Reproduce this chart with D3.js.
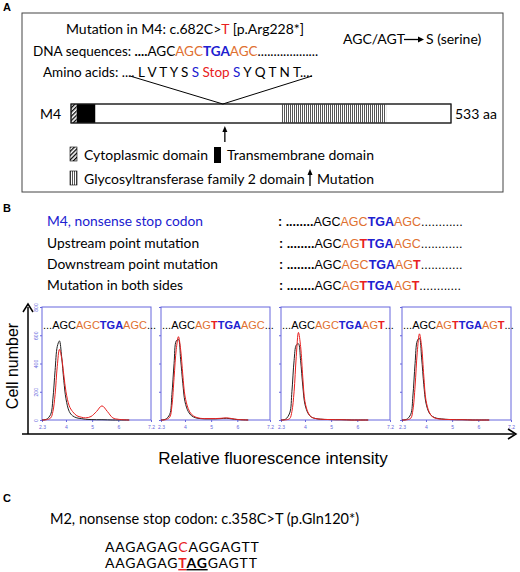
<!DOCTYPE html>
<html><head><meta charset="utf-8">
<script src="https://cdn.jsdelivr.net/npm/d3@7"></script>
<style>body{margin:0;background:#fff}</style>
</head><body>
<script>
const W = 520, H = 572
const OR = '#e07030', BL = '#2020d0', RD = '#e82020'

// panel A protein domains (amino acid positions)
const proteinLength = 533
const domains = [
  {name: 'Cytoplasmic domain', start: 0, end: 8, fill: 'url(#hatch)'},
  {name: 'Transmembrane domain', start: 8, end: 34, fill: '#000'},
  {name: 'Glycosyltransferase family 2 domain', start: 295, end: 442, fill: 'url(#vstripe)'}
]
const mutationPos = 213

// panel B sequences: [text, colour, bold]
const seqLabels = ['M4, nonsense stop codon', 'Upstream point mutation', 'Downstream point mutation', 'Mutation in both sides']
const seqs = [
  [['AGC', '#000'], ['AGC', OR], ['TGA', BL, 1], ['AGC', OR]],
  [['AGC', '#000'], ['AG', OR], ['T', RD, 1], ['TGA', BL, 1], ['AGC', OR]],
  [['AGC', '#000'], ['AGC', OR], ['TGA', BL, 1], ['AG', OR], ['T', RD, 1]],
  [['AGC', '#000'], ['AG', OR], ['T', RD, 1], ['TGA', BL, 1], ['AG', OR], ['T', RD, 1]]
]

// histograms
const xGrid = [0,0.04,0.08,0.1,0.12,0.14,0.16,0.18,0.2,0.22,0.25,0.28,0.32,0.36,0.4,0.45,0.5,0.55,0.6,0.65,0.7,0.8]
const blackCounts = [
  [0,5,40,150,350,520,560,450,280,150,60,30,15,10,5,3,2,2,1,0,0,0],
  [0,5,40,180,400,560,570,430,260,130,60,30,15,10,8,8,8,10,12,8,3,0],
  [0,5,50,200,420,530,540,420,240,110,45,20,10,6,4,3,2,2,1,0,0,0],
  [0,4,40,170,400,560,580,440,250,120,50,25,12,8,5,3,2,2,1,0,0,0]
]
const redCounts = [
  [0,2,15,60,180,380,500,440,320,200,100,60,30,20,15,25,60,100,60,15,5,0],
  [0,2,20,100,300,500,590,500,320,170,80,40,20,12,10,10,10,12,15,10,4,0],
  [0,1,10,60,200,450,620,520,300,130,50,20,10,6,4,3,2,2,1,0,0,0],
  [0,1,12,70,240,480,610,520,310,140,55,22,10,6,4,3,2,2,1,0,0,0]
]
const yTicks = [0, 200, 400, 600, 800]
const xTickPos = [0, 0.22, 0.46, 0.7, 1]
const xTickLabels = ['2.3', '4', '5', '6', '7.2']

const svg = d3.select('body').append('svg').attr('width', W).attr('height', H)
  .style('font-family', 'Lato, "Open Sans", sans-serif')

const defs = svg.append('defs')
defs.append('pattern').attr('id', 'hatch').attr('width', 3).attr('height', 3)
  .attr('patternUnits', 'userSpaceOnUse').attr('patternTransform', 'rotate(45)')
  .append('rect').attr('width', 1.3).attr('height', 3).attr('fill', '#000')
defs.append('pattern').attr('id', 'vstripe').attr('width', 2).attr('height', 4)
  .attr('patternUnits', 'userSpaceOnUse')
  .append('rect').attr('width', 1).attr('height', 4).attr('fill', '#555')

function rich(g, x, y, parts, size, family) {
  const t = g.append('text').attr('x', x).attr('y', y).attr('font-size', size)
  if (family) t.attr('font-family', family)
  parts.forEach(p => t.append('tspan').text(p[0]).attr('fill', p[1] || '#000')
    .attr('font-weight', p[2] ? 'bold' : null))
  return t
}

// ---------- Panel A
svg.append('text').attr('x', 3).attr('y', 11).text('A').attr('font-weight', 'bold')
  .attr('font-size', 11).attr('font-family', 'Liberation Sans')
svg.append('rect').attr('x', 22).attr('y', 13).attr('width', 481).attr('height', 179)
  .attr('fill', 'none').attr('stroke', '#444').attr('stroke-width', 1)

rich(svg, 66, 34, [['Mutation in M4: c.682C>'], ['T', RD], [' [p.Arg228*]']], 14)
rich(svg, 33, 56, [['DNA sequences: '], ['....', '#000', 1], ['AGC'], ['AGC', OR], ['TGA', BL, 1], ['AGC', OR], ['...................']], 13.5)
rich(svg, 43, 77, [['Amino acids: .... L V T Y S '], ['S', BL], [' Stop ', RD], ['S', BL], [' Y Q T N T....']], 13.5)
rich(svg, 343, 44, [['AGC/AGT ']], 14)
svg.append('line').attr('x1', 404).attr('x2', 418).attr('y1', 39.5).attr('y2', 39.5).attr('stroke', '#000').attr('stroke-width', 1.3)
svg.append('path').attr('d', 'M418,36.5 L424,39.5 L418,42.5 Z')
rich(svg, 426, 44, [['S (serine)']], 14)

const px = d3.scaleLinear().domain([0, proteinLength]).range([71, 451])
const barY = 104, barH = 19
svg.append('rect').attr('x', px(0)).attr('y', barY).attr('width', px(proteinLength) - px(0))
  .attr('height', barH).attr('fill', '#fff').attr('stroke', '#222')
svg.selectAll('.dom').data(domains).join('rect')
  .attr('x', d => px(d.start)).attr('y', barY).attr('width', d => px(d.end) - px(d.start))
  .attr('height', barH).attr('fill', d => d.fill)
svg.append('rect').attr('x', px(0)).attr('y', barY).attr('width', px(proteinLength) - px(0))
  .attr('height', barH).attr('fill', 'none').attr('stroke', '#222')
svg.append('text').attr('x', 40).attr('y', 119).text('M4').attr('font-size', 14)
svg.append('text').attr('x', 455).attr('y', 119).text(proteinLength + ' aa').attr('font-size', 14)
svg.append('path').attr('d', `M130,76 L${px(mutationPos)},104 L312,76`).attr('fill', 'none').attr('stroke', '#000')
const ax = px(mutationPos) + 2
svg.append('line').attr('x1', ax).attr('x2', ax).attr('y1', 142).attr('y2', 131).attr('stroke', '#000').attr('stroke-width', 1.3)
svg.append('path').attr('d', `M${ax - 2.5},132 L${ax},126 L${ax + 2.5},132 Z`)

// legend
svg.append('rect').attr('x', 70).attr('y', 147).attr('width', 7).attr('height', 14).attr('fill', 'url(#hatch)').attr('stroke', '#000').attr('stroke-width', 0.6)
svg.append('text').attr('x', 84).attr('y', 160).text(domains[0].name).attr('font-size', 14)
svg.append('rect').attr('x', 214).attr('y', 147).attr('width', 7).attr('height', 16).attr('fill', '#000')
svg.append('text').attr('x', 227).attr('y', 160).text(domains[1].name).attr('font-size', 14)
svg.append('rect').attr('x', 70).attr('y', 171).attr('width', 7).attr('height', 14).attr('fill', 'url(#vstripe)').attr('stroke', '#000').attr('stroke-width', 0.6)
svg.append('text').attr('x', 84).attr('y', 184).text(domains[2].name).attr('font-size', 14)
svg.append('line').attr('x1', 310).attr('x2', 310).attr('y1', 186).attr('y2', 174).attr('stroke', '#000').attr('stroke-width', 1.3)
svg.append('path').attr('d', 'M307.5,175 L310,169 L312.5,175 Z')
svg.append('text').attr('x', 317).attr('y', 184).text('Mutation').attr('font-size', 14)

// ---------- Panel B
svg.append('text').attr('x', 3).attr('y', 212).text('B').attr('font-weight', 'bold')
  .attr('font-size', 11).attr('font-family', 'Liberation Sans')
const seqY = [226, 248, 269, 290]
seqLabels.forEach((l, i) => {
  svg.append('text').attr('x', 47).attr('y', seqY[i]).text(l).attr('font-size', 13.8)
    .attr('fill', i === 0 ? BL : '#000')
  rich(svg, 278 + (i ? 1 : 0), seqY[i], [[': ', '#000', 1], ['........', '#000', 1]].concat(seqs[i]).concat([['............']]), 12.5, 'Liberation Sans')
})

const panelX = [42, 161, 281, 402], panelW = 109
const py0 = 307, py1 = 420
const hx = d3.scaleLinear().domain([0, 1]).range([0, panelW])
const hy = d3.scaleLinear().domain([0, 800]).range([py1 - py0, 0])
const line = d3.line().x((d, i) => hx(xGrid[i])).y(d => hy(d)).curve(d3.curveCatmullRom)

panelX.forEach((x0, p) => {
  const g = svg.append('g').attr('transform', `translate(${x0},${py0})`)
  g.append('rect').attr('width', panelW).attr('height', py1 - py0).attr('fill', 'none').attr('stroke', '#6666dd')
  const yAx = g.append('g').call(d3.axisLeft(hy).tickValues(yTicks).tickSize(2)
    .tickFormat(p === 0 ? d3.format('d') : ''))
  const xAx = g.append('g').attr('transform', `translate(0,${py1 - py0})`)
    .call(d3.axisBottom(hx).tickValues(xTickPos).tickSize(2).tickFormat((d, i) => xTickLabels[i]))
  ;[yAx, xAx].forEach(a => {
    a.select('.domain').remove()
    a.selectAll('line').attr('stroke', '#6666dd')
    a.selectAll('text').attr('fill', '#6666dd').attr('font-size', 5)
  })
  yAx.selectAll('text').attr('transform', function () { return `rotate(-90,${d3.select(this).attr('x')},0)` })
    .attr('text-anchor', 'middle').attr('dy', '0.2em')
  g.append('path').attr('d', line(blackCounts[p])).attr('fill', 'none').attr('stroke', '#222').attr('stroke-width', 1)
  g.append('path').attr('d', line(redCounts[p])).attr('fill', 'none').attr('stroke', RD).attr('stroke-width', 1)
  rich(g, 1, 22, [['...'], ...seqs[p], ['...']], 11, 'Liberation Sans')
})

svg.append('line').attr('x1', 28).attr('x2', 28).attr('y1', 434).attr('y2', 307).attr('stroke', '#000').attr('stroke-width', 1.5)
svg.append('path').attr('d', 'M23,312 L28,304 L33,312').attr('fill', 'none').attr('stroke', '#000').attr('stroke-width', 1.5)
svg.append('line').attr('x1', 22).attr('x2', 514).attr('y1', 434).attr('y2', 434).attr('stroke', '#000').attr('stroke-width', 1.5)
svg.append('path').attr('d', 'M508,429 L516,434 L508,439').attr('fill', 'none').attr('stroke', '#000').attr('stroke-width', 1.5)
svg.append('text').attr('transform', 'translate(18,366) rotate(-90)').attr('text-anchor', 'middle')
  .text('Cell number').attr('font-size', 16).attr('font-family', 'Liberation Sans')
svg.append('text').attr('x', 273).attr('y', 464).attr('text-anchor', 'middle')
  .text('Relative fluorescence intensity').attr('font-size', 17).attr('font-family', 'Liberation Sans')

// ---------- Panel C
svg.append('text').attr('x', 3).attr('y', 502).text('C').attr('font-weight', 'bold')
  .attr('font-size', 11).attr('font-family', 'Liberation Sans')
svg.append('text').attr('x', 50).attr('y', 524).text('M2, nonsense stop codon: c.358C>T (p.Gln120*)').attr('font-size', 14.5)
rich(svg, 105, 552, [['AAGAGAG'], ['C', RD], ['AGGAGTT']], 14).attr('letter-spacing', 0.8)
const c2 = rich(svg, 105, 568, [['AAGAGAG'], ['T', RD, 1], ['AG', '#000', 1], ['GAGTT']], 14).attr('letter-spacing', 0.8)
c2.selectAll('tspan').filter((d, i) => i === 1 || i === 2).attr('text-decoration', 'underline')
</script>
</body></html>
